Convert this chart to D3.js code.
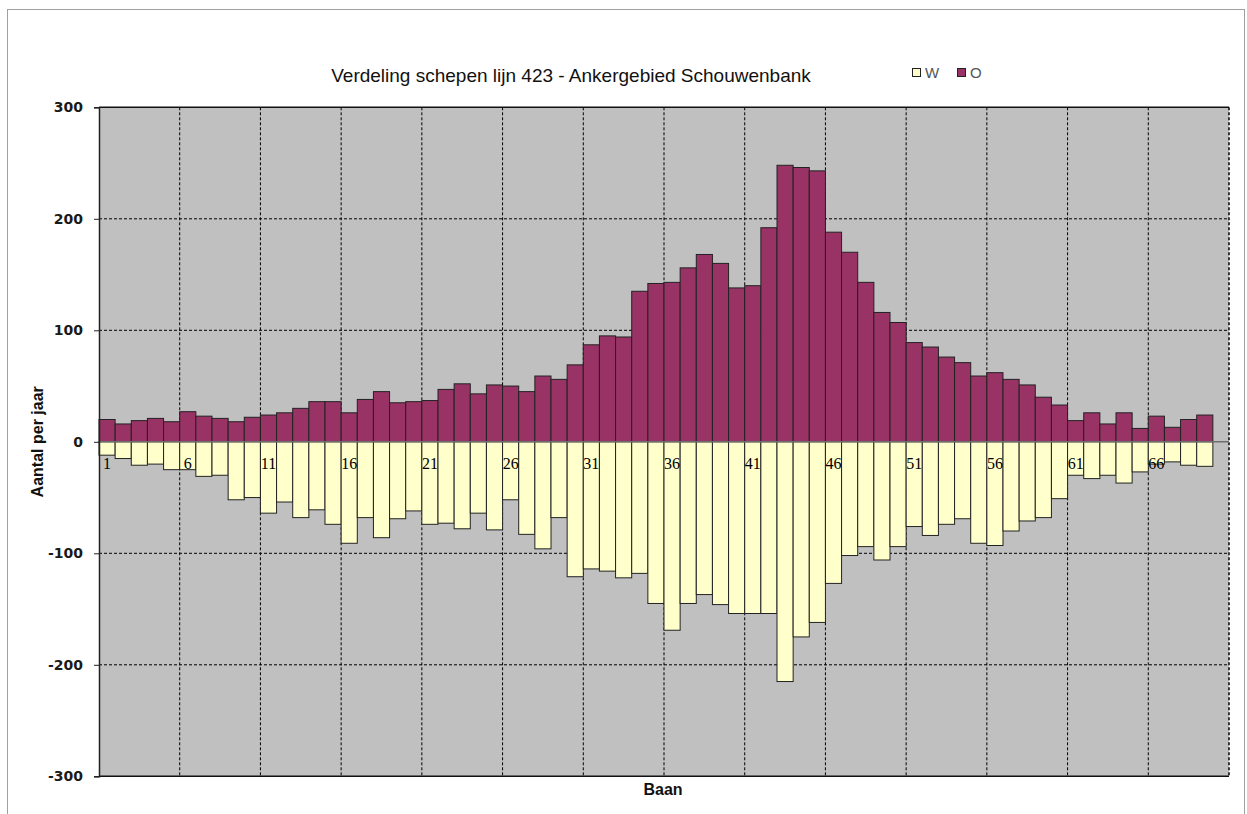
<!DOCTYPE html>
<html><head><meta charset="utf-8">
<script src="https://cdn.jsdelivr.net/npm/d3@7"></script>
<style>
html,body{margin:0;padding:0;background:#fff;}
svg{display:block;}
</style></head>
<body>
<svg id="chart" width="1247" height="814"></svg>
<script>
const categories = [1,2,3,4,5,6,7,8,9,10,11,12,13,14,15,16,17,18,19,20,21,22,23,24,25,26,27,28,29,30,31,32,33,34,35,36,37,38,39,40,41,42,43,44,45,46,47,48,49,50,51,52,53,54,55,56,57,58,59,60,61,62,63,64,65,66,67,68,69,70];
const seriesO = [20,16,19,21,18,27,23,21,18,22,24,26,30,36,36,26,38,45,35,36,37,47,52,43,51,50,45,59,56,69,87,95,94,135,142,143,156,168,160,138,140,192,248,246,243,188,170,143,116,107,89,85,76,71,59,62,56,51,40,33,19,26,16,26,12,23,13,20,24];
const seriesW = [-12,-15,-21,-20,-25,-25,-31,-30,-52,-50,-64,-54,-68,-61,-74,-91,-68,-86,-69,-62,-74,-73,-78,-64,-79,-52,-83,-96,-68,-121,-114,-116,-122,-118,-145,-169,-145,-137,-146,-154,-154,-154,-215,-175,-162,-127,-102,-94,-106,-94,-76,-84,-74,-69,-91,-93,-80,-71,-68,-51,-30,-33,-30,-37,-27,-20,-18,-21,-22];
const xTickLabels = [1,6,11,16,21,26,31,36,41,46,51,56,61,66];
const yTicks = [-300,-200,-100,0,100,200,300];
const seriesNames = ["W","O"];
const colors = {W:"#FFFFCC", O:"#993366"};

const svg = d3.select("#chart");
const L=99, R=1229, T=107.3, B=776.3;

// outer frame
svg.append("rect").attr("x",7.5).attr("y",9.5).attr("width",1237).attr("height",830)
  .attr("fill","#fff").attr("stroke","#a0a0a0").attr("stroke-width",1);

const x = d3.scaleBand().domain(categories).range([L,R]).padding(0);
const y = d3.scaleLinear().domain([-300,300]).range([B,T]);

// plot background
svg.append("rect").attr("x",L).attr("y",T).attr("width",R-L).attr("height",B-T).attr("fill","#C0C0C0");

// horizontal grid
svg.append("g").selectAll("line").data(yTicks.filter(d=>d!==0 && Math.abs(d)!==300)).join("line")
  .attr("x1",L).attr("x2",R).attr("y1",d=>y(d)).attr("y2",d=>y(d))
  .attr("stroke","#000").attr("stroke-width",1).attr("stroke-dasharray","3,2");
// vertical grid at every 5 categories
const gridCats = categories.filter(c=>(c-1)%5===0 && c>1);
svg.append("g").selectAll("line").data(gridCats).join("line")
  .attr("x1",d=>x(d)).attr("x2",d=>x(d)).attr("y1",T).attr("y2",B)
  .attr("stroke","#000").attr("stroke-width",1).attr("stroke-dasharray","3,2");
svg.append("line").attr("x1",R).attr("x2",R).attr("y1",T).attr("y2",B)
  .attr("stroke","#000").attr("stroke-width",1.5).attr("stroke-dasharray","3,2");

// bars
const bw = x.bandwidth();
svg.append("g").selectAll("rect").data(seriesO).join("rect")
  .attr("x",(d,i)=>x(categories[i])).attr("width",bw)
  .attr("y",d=>y(d)).attr("height",d=>y(0)-y(d))
  .attr("fill",colors.O).attr("stroke","#222").attr("stroke-width",1);
svg.append("g").selectAll("rect").data(seriesW).join("rect")
  .attr("x",(d,i)=>x(categories[i])).attr("width",bw)
  .attr("y",y(0)).attr("height",d=>y(d)-y(0))
  .attr("fill",colors.W).attr("stroke","#222").attr("stroke-width",1);

// zero axis line
svg.append("line").attr("x1",L).attr("x2",R).attr("y1",y(0)).attr("y2",y(0))
  .attr("stroke","#6e6e6e").attr("stroke-width",1.5);

// plot border (top, bottom)
svg.append("line").attr("x1",L).attr("x2",R).attr("y1",T).attr("y2",T).attr("stroke","#111").attr("stroke-width",1.5);
svg.append("line").attr("x1",L).attr("x2",R).attr("y1",B).attr("y2",B).attr("stroke","#111").attr("stroke-width",1.5);

// y axis
const yAxis = d3.axisLeft(y).tickValues(yTicks).tickSize(5).tickPadding(11).tickFormat(d=>String(d));
const gy = svg.append("g").attr("transform",`translate(${L},0)`).call(yAxis);
gy.select(".domain").attr("stroke","#222").attr("stroke-width",1.5);
gy.selectAll(".tick line").attr("stroke","#222");
gy.selectAll(".tick text").attr("font-family","DejaVu Sans, sans-serif").attr("font-size",14)
  .attr("font-weight","bold").attr("fill","#1a1a1a");

// x category labels at zero line
const xAxis = d3.axisBottom(x).tickValues(xTickLabels).tickSize(0).tickPadding(27);
const gx = svg.append("g").attr("transform",`translate(0,${y(0)})`).call(xAxis);
gx.select(".domain").remove();
gx.selectAll(".tick text").attr("font-family","Liberation Serif, serif").attr("font-size",16)
  .attr("fill","#000").attr("dy","0");

// titles
svg.append("text").attr("x",571).attr("y",82).attr("text-anchor","middle")
  .attr("font-family","Liberation Sans, Arial, sans-serif").attr("font-size",19).attr("fill","#111")
  .text("Verdeling schepen lijn 423 - Ankergebied Schouwenbank");
svg.append("text").attr("x",663).attr("y",795).attr("text-anchor","middle")
  .attr("font-family","Liberation Sans, Arial, sans-serif").attr("font-size",16).attr("font-weight","bold").attr("fill","#111")
  .text("Baan");
svg.append("text").attr("transform",`translate(43,${(T+B)/2}) rotate(-90)`).attr("text-anchor","middle")
  .attr("font-family","Liberation Sans, Arial, sans-serif").attr("font-size",16).attr("font-weight","bold").attr("fill","#111")
  .text("Aantal per jaar");

// legend
const legX = [912, 957];
const leg = svg.append("g");
seriesNames.forEach((s,i)=>{
  leg.append("rect").attr("x",legX[i]+0.5).attr("y",68.5).attr("width",8).attr("height",8)
    .attr("fill",colors[s]).attr("stroke","#222").attr("stroke-width",1);
  leg.append("text").attr("x",legX[i]+13).attr("y",78).attr("font-family","Liberation Sans, Arial, sans-serif")
    .attr("font-size",15).attr("fill","#555").text(s);
});
</script>
</body></html>
